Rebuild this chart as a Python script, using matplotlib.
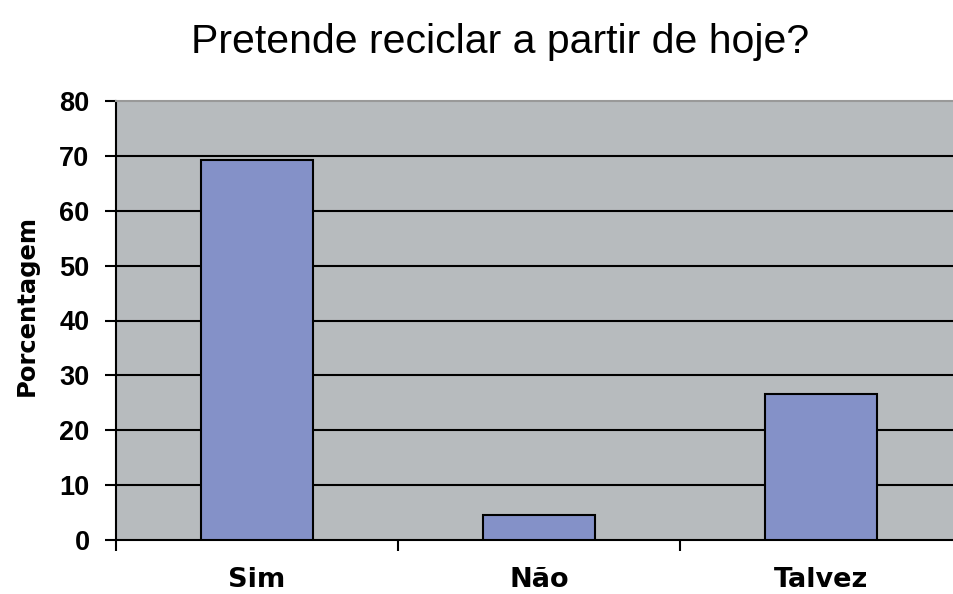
import matplotlib
matplotlib.use("Agg")
import matplotlib.pyplot as plt

# data
categories = ["Sim", "Não", "Talvez"]
values = [69.2, 4.5, 26.6]
yticks = [0, 10, 20, 30, 40, 50, 60, 70, 80]

fig = plt.figure(figsize=(9.54, 5.94), dpi=100)
ax = fig.add_axes([116 / 954, 54 / 594, 846 / 954, 439 / 594])
ax.set_facecolor("#b7bbbe")

x = list(range(len(categories)))
ax.bar(x, values, width=0.4, color="#8491c8", edgecolor="black", linewidth=1.5, zorder=3)

ax.set_xlim(-0.5, len(categories) - 0.5)
ax.set_ylim(0, 80)
ax.set_yticks(yticks)
ax.set_yticklabels([str(v) for v in yticks], fontsize=19.5, family="Liberation Sans",
                   fontweight="bold")
for v in yticks[1:-1]:
    ax.axhline(v, color="black", linewidth=1.5, zorder=2)

# category boundary ticks on the x axis
ax.set_xticks([i - 0.5 for i in x])
ax.set_xticklabels([])
for i, c in enumerate(categories):
    ax.text(i, -7.3, c, ha="center", va="center", fontsize=19.5, fontweight="bold")

ax.tick_params(axis="both", direction="out", length=8, width=1.5, color="black")
ax.tick_params(axis="y", pad=11)

for s in ["left", "bottom"]:
    ax.spines[s].set_linewidth(1.5)
ax.spines["right"].set_visible(False)
ax.spines["top"].set_color("#999999")
ax.spines["top"].set_linewidth(1.5)

ax.set_ylabel("Porcentagem", fontsize=17.5, fontweight="bold")
ax.yaxis.set_label_coords(-77 / 846, (540 - 305) / 439)

fig.text(0.524, 1 - 53 / 594, "Pretende reciclar a partir de hoje?", ha="center",
         va="baseline", fontsize=29.5, family="Liberation Sans")

fig.savefig("out.png", dpi=100, facecolor="white")
